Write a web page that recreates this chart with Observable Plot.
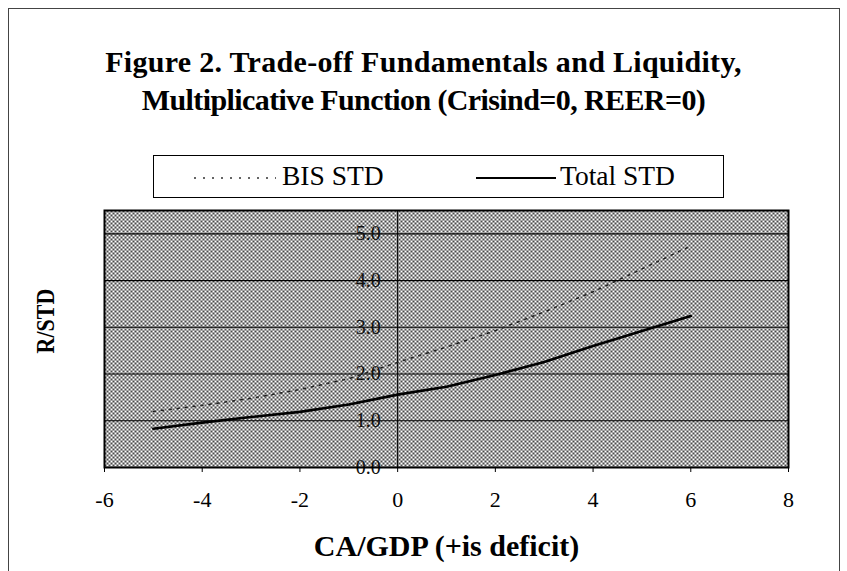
<!DOCTYPE html>
<html>
<head>
<meta charset="utf-8">
<script src="https://cdn.jsdelivr.net/npm/d3@7"></script>
<script src="https://cdn.jsdelivr.net/npm/@observablehq/plot@0.6"></script>
<style>
  html, body { margin: 0; padding: 0; background: #fff; }
  #page { position: relative; width: 847px; height: 571px; overflow: hidden; font-family: "Liberation Serif", "Times New Roman", serif; color: #000; }
  #frame { position: absolute; left: 8px; top: 8px; width: 832px; height: 600px; border: 1px solid #444; box-sizing: border-box; }
  .title { position: absolute; left: 0; width: 847px; text-align: center; font-weight: bold; font-size: 30px; line-height: 32px; white-space: nowrap; }
  #legend { position: absolute; left: 153px; top: 155px; width: 571px; height: 43px; border: 1.5px solid #000; box-sizing: border-box; }
  .ltext { position: absolute; top: 5px; font-size: 27.5px; line-height: 30px; white-space: nowrap; }
  #ylabel { position: absolute; left: 46px; top: 321px; transform: translate(-50%, -50%) rotate(-90deg) scale(0.88, 1); font-weight: bold; font-size: 25px; white-space: nowrap; }
  #chart { position: absolute; left: 0; top: 200px; }
  #chart svg { font-family: "Liberation Serif", "Times New Roman", serif; }
  #chart g[aria-label="x-axis label"] text { font-weight: bold; font-size: 30px; }
</style>
</head>
<body>
<div id="page">
  <div id="frame"></div>
  <div class="title" style="top:46px; letter-spacing:0.3px">Figure 2. Trade-off Fundamentals and Liquidity,</div>
  <div class="title" style="top:84px; letter-spacing:-0.6px">Multiplicative Function (Crisind=0, REER=0)</div>
  <div id="legend">
    <svg width="571" height="43" style="position:absolute;left:0;top:0">
      <line x1="40" x2="122" y1="22" y2="22" stroke="#333" stroke-width="1.4" stroke-dasharray="2,7"></line>
      <line x1="322" x2="402" y1="22" y2="22" stroke="#000" stroke-width="1.8"></line>
    </svg>
    <div class="ltext" style="left:128px">BIS STD</div>
    <div class="ltext" style="left:406px">Total STD</div>
  </div>
  <div id="ylabel">R/STD</div>
  <div id="chart"></div>
</div>
<script>
const caGdp = [-5, -4, -3, -2, -1, 0, 1, 2, 3, 4, 5, 6];
const bisStd = [1.20, 1.33, 1.48, 1.67, 1.90, 2.25, 2.58, 2.93, 3.33, 3.76, 4.25, 4.74];
const totalStd = [0.83, 0.96, 1.08, 1.19, 1.35, 1.56, 1.73, 1.98, 2.26, 2.60, 2.92, 3.24];
const xTicks = [-6, -4, -2, 0, 2, 4, 6, 8];
const xTickLabels = ["-6", "-4", "-2", "0", "2", "4", "6", "8"];
const yTicks = [0, 1, 2, 3, 4, 5];
const yTickLabels = ["0.0", "1.0", "2.0", "3.0", "4.0", "5.0"];
const seriesNames = ["BIS STD", "Total STD"];

const rows = [];
caGdp.forEach((x, i) => {
  rows.push({series: seriesNames[0], x, y: bisStd[i]});
  rows.push({series: seriesNames[1], x, y: totalStd[i]});
});
const yLabelRows = yTicks.map((v, i) => ({y: v, label: yTickLabels[i]}));
const xLabelRows = xTicks.map((v, i) => ({x: v, label: xTickLabels[i]}));

const chart = Plot.plot({
  width: 847,
  height: 371,
  marginTop: 10,
  marginBottom: 104,
  marginLeft: 104,
  marginRight: 59,
  x: {domain: [-6, 8]},
  y: {domain: [0, 5.5]},
  style: {fontFamily: "Liberation Serif, Times New Roman, serif", color: "#000", background: "transparent"},
  marks: [
    Plot.frame({fill: "url(#chk)", stroke: "none"}),
    Plot.ruleY(yTicks.filter(v => v > 0), {stroke: "#000", strokeWidth: 1.1}),
    Plot.ruleX([0], {stroke: "#000", strokeWidth: 1.1}),
    Plot.line(rows.filter(d => d.series === seriesNames[0]), {x: "x", y: "y", stroke: "#222", strokeWidth: 1.5, strokeDasharray: "2,6"}),
    Plot.line(rows.filter(d => d.series === seriesNames[1]), {x: "x", y: "y", stroke: "#000", strokeWidth: 2.6}),
    Plot.text(yLabelRows, {x: 0, y: "y", text: "label", textAnchor: "end", dx: -17, fontSize: 20, fill: "#111"}),
    Plot.frame({stroke: "#000", strokeWidth: 2}),
    Plot.axisX({ticks: xTicks, tickSize: 5, tickFormat: () => "",
      label: "CA/GDP (+is deficit)", labelAnchor: "center", labelArrow: "none", labelOffset: 88}),
    Plot.text(xLabelRows, {x: "x", text: "label", frameAnchor: "bottom", lineAnchor: "middle", dy: 32, fontSize: 22, fill: "#000"}),
    Plot.axisY({ticks: [], label: null})
  ]
});

const svg = d3.select(chart);
const defs = svg.insert("defs", ":first-child");
const pat = defs.append("pattern").attr("id", "chk").attr("width", 4).attr("height", 4).attr("patternUnits", "userSpaceOnUse");
pat.append("rect").attr("width", 4).attr("height", 4).attr("fill", "#fff");
pat.append("rect").attr("x", 0).attr("y", 0).attr("width", 2).attr("height", 2).attr("fill", "#4a4a4a");
pat.append("rect").attr("x", 2).attr("y", 2).attr("width", 2).attr("height", 2).attr("fill", "#4a4a4a");

document.getElementById("chart").appendChild(chart);
</script>
</body>
</html>
